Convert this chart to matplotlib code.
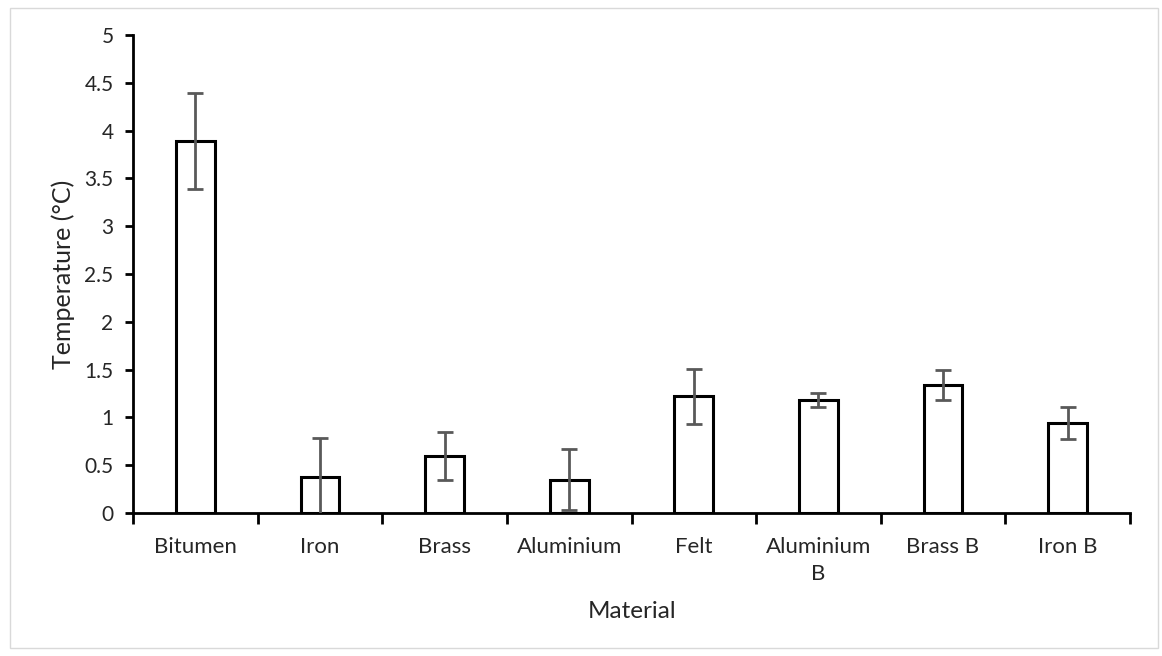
import matplotlib
matplotlib.use("Agg")
import matplotlib.pyplot as plt
from matplotlib.patches import Rectangle
from matplotlib.ticker import FixedLocator, FuncFormatter

materials = ["Bitumen", "Iron", "Brass", "Aluminium", "Felt", "Aluminium\nB", "Brass B", "Iron B"]
mean_temp = [3.89, 0.38, 0.60, 0.35, 1.22, 1.18, 1.34, 0.94]
temp_err = [0.50, 0.40, 0.25, 0.32, 0.29, 0.075, 0.155, 0.17]
y_ticks = [0, 0.5, 1, 1.5, 2, 2.5, 3, 3.5, 4, 4.5, 5]

plt.rcParams["font.family"] = ["Lato", "DejaVu Sans"]

W, H = 1162, 656
fig = plt.figure(figsize=(W / 100, H / 100), dpi=100)
fig.patch.set_facecolor("white")

# light frame around the whole chart area
fig.add_artist(Rectangle((10 / W, 8 / H), 1148 / W, 640 / H, transform=fig.transFigure,
                         fill=False, edgecolor="#d9d9d9", linewidth=1.0))

ax = fig.add_axes([133 / W, 1 - 513 / H, (1130 - 133) / W, (513 - 35) / H])
x = list(range(len(materials)))

ax.bar(x, mean_temp, width=0.31, color="white", edgecolor="black", linewidth=2.2, zorder=2)
ax.errorbar(x, mean_temp, yerr=temp_err, fmt="none", ecolor="#595959",
            elinewidth=2.0, capsize=5.5, capthick=2.0, zorder=3)

ax.set_xlim(-0.5, len(materials) - 0.5)
ax.set_ylim(0, 5)

for side in ("top", "right"):
    ax.spines[side].set_visible(False)
for side in ("left", "bottom"):
    ax.spines[side].set_linewidth(2.0)
    ax.spines[side].set_color("black")

text_color = "#262626"

ax.yaxis.set_major_locator(FixedLocator(y_ticks))
ax.yaxis.set_major_formatter(FuncFormatter(lambda v, p: f"{v:g}"))
ax.tick_params(axis="y", direction="out", length=6, width=2, pad=8,
               labelsize=15, labelcolor=text_color)

ax.set_xticks(x)
ax.set_xticklabels(materials)
ax.tick_params(axis="x", which="major", length=0, pad=17, labelsize=16, labelcolor=text_color)
ax.set_xticks([i - 0.5 for i in range(len(materials) + 1)], minor=True)
ax.tick_params(axis="x", which="minor", direction="out", length=8, width=2)
for lbl in ax.get_xticklabels():
    lbl.set_linespacing(1.45)

ax.set_ylabel("Temperature (°C)", fontsize=18, color=text_color, va="center")
ax.set_xlabel("Material", fontsize=17.5, color=text_color, va="center")

# axis titles at fixed figure positions
ax.yaxis.set_label_coords(63 / W, 1 - 274 / H, transform=fig.transFigure)
ax.xaxis.set_label_coords(632 / W, 1 - 612 / H, transform=fig.transFigure)

fig.savefig("out.png", dpi=100, facecolor="white")
